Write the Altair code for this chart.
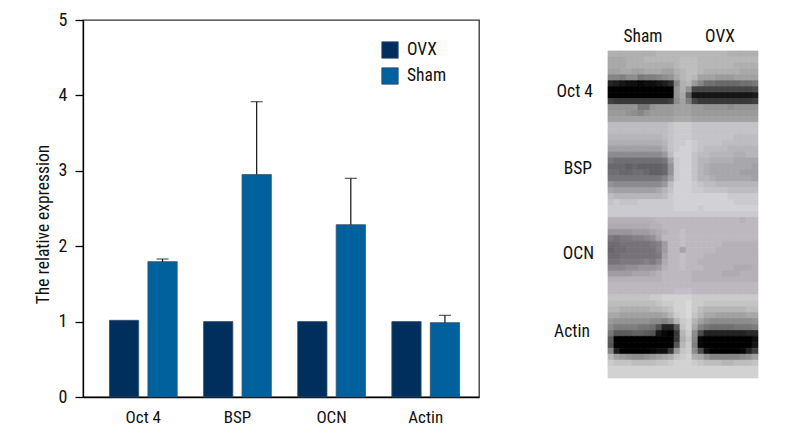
import altair as alt
import pandas as pd

FONT = "Roboto Condensed, Open Sans Condensed, DejaVu Sans Condensed, sans-serif"

categories = ["Oct 4", "BSP", "OCN", "Actin"]
ovx_values = [1.017, 1.0, 1.0, 1.0]
sham_values = [1.795, 2.95, 2.285, 0.986]
sham_error_top = [1.83, 3.917, 2.90, 1.083]
groups = ["OVX", "Sham"]
group_colors = ["#002e5d", "#00619c"]
y_ticks = [0, 1, 2, 3, 4, 5]

# Blot densities: one base-36 digit per cell (0 black, z light)
blot_oct4 = [
    "ppppppppqqq" "qqq" "qqqqqqppppp",
    "ooopppqqqqq" "qrr" "rqqqqqqqqqq",
    "oooppppppppq" "rr" "rqqqqqqpppp",
    "nnoonnooonn" "pqr" "rqppppppooo",
    "jjikkhiijkl" "oqr" "qnnnmmmnnnn",
    "54322122346" "jpq" "mjggffffggh",
    "00000000000" "lpl" "aaaaaaaaaab",
    "00000000000" "loe" "33333333334",
    "98888888889" "kni" "a8888888889",
    "lllllhhlmmm" "nnn" "mmllllkllll",
    "mmmlkjlmmmm" "nnn" "mmmmmmmmmmm",
    "nnnnnnnnnnn" "ooo" "nnnnnnnnnnn",
]
blot_bsp = [
    "rrrrrrrrrrs" "ttt" "sssssssssss",
    "rrrrrrrrrrs" "ttt" "sssssssssss",
    "qqqqqqqqqrs" "ttt" "sssssssrrrr",
    "pppppppppqs" "ttu" "tssssrrrrrr",
    "nnnnnnnnnps" "tuu" "tsrrrrqqqqq",
    "kkkkkkkkkmr" "uuu" "srrqqqqppqq",
    "hgggggggghn" "tuu" "sqqppppoooo",
    "fffefeeeefl" "tuu" "sqpooooooon",
    "ggffggfeefl" "tuu" "sqpooooonnn",
    "hhhhhhhhhjn" "tuu" "sqqpoooooon",
    "lkkkkkkkkmr" "uuu" "tsrrqqqqqqq",
    "onnnnnnnoqs" "uuu" "ttssssrrrrr",
    "rqqqqqqqqrt" "uuu" "uuuuuuttttt",
    "stssstttttt" "uuu" "uuuuuuutttt",
    "ttttttttttt" "uuu" "utuuuuuuuuu",
    "ttttttttttt" "ttt" "ttttttttttt",
]
blot_ocn = [
    "qqqqqqqqrrr" "rrr" "rrrrrrrrqrr",
    "pppppppqqrr" "rrr" "rrrrrrrrrrr",
    "mmmmnnnopqr" "rsr" "rrrrrrrrrrr",
    "ihiijjklorr" "rsr" "rrrrrrrrrrr",
    "gghhhhhijnr" "rsr" "rrrrrqqqqqq",
    "fgghhhhhjnr" "ror" "rrrrqqqqqqq",
    "gghhhhhhior" "rsr" "rrqqqqqqqqq",
    "hhiiiijikpr" "rsr" "rqqqqqqqqqq",
    "kkkllmmmnqr" "rsr" "rrqqqqqpppq",
    "nnnnooopqrr" "rrr" "qqqqqpppqqq",
    "qqqqqqqqqrr" "rrr" "qqqqqqqqqqq",
    "rrrrrrrrrrr" "rrr" "rrrrrrrrrrr",
    "rrrrrrrrrrr" "sss" "rrrrrrrrrrr",
]
blot_actin = [
    "sssssssttuu" "uuu" "ttttttttttt",
    "rrrrrrrrstt" "uuv" "ttsssssssss",
    "qqpppppqqrs" "uuv" "trqqqqqqqrr",
    "oonnnnnnnoq" "tuv" "sqoonnnnnoo",
    "mllllllkkjl" "qtu" "qnlkkkkkkkl",
    "kiiiihhgc55" "dsu" "ojhgggghhhi",
    "hdddeedc310" "8qt" "kb555555566",
    "d0000000000" "8ps" "j1000000002",
    "c0000000000" "cqt" "i1000000003",
    "j4000001228" "mst" "kb200000159",
    "qnmlkklmnop" "stu" "poljjjjjkln",
    "tsssrrrrsst" "uuu" "tsrrrqqrrrs",
    "uuuuuuuuuuu" "uuu" "uuuuuuuuuuu",
    "uuuuuuuuuuu" "uuu" "uuuuuuuuuuu",
]
blot_panels = [(blot_oct4, (0, 1, 0)), (blot_bsp, (0, 0, 4)), (blot_ocn, (0, -5, 2)), (blot_actin, (0, 0, 0))]

lane_labels = ["Sham", "OVX"]
lane_cols = [5.83, 18.67]
lane_rows = [-2.35, -2.35]
row_labels = ["Oct 4", "BSP", "OCN", "Actin"]
row_label_cols = [-2.5, -2.67, -2.33, -3.0]
row_label_rows = [6.9, 19.85, 34.1, 47.3]

# ---- bar chart ----
bars = pd.DataFrame(
    {"cat": categories * 2,
     "group": ["OVX"] * 4 + ["Sham"] * 4,
     "value": ovx_values + sham_values}
)
errs = pd.DataFrame(
    {"cat": categories, "group": ["Sham"] * 4, "low": sham_values, "high": sham_error_top}
)

x_enc = alt.X(
    "cat:N",
    sort=categories,
    scale=alt.Scale(paddingInner=0, paddingOuter=0.1035, align=0.68),
    axis=alt.Axis(title=None, labelAngle=0, ticks=False, labelPadding=12, labelFontSize=17,
                  labelColor="#111", domainColor="#000", domainWidth=1.3, grid=False,
                  labelFont=FONT),
)
x_off = alt.XOffset("group:N", sort=groups, scale=alt.Scale(paddingInner=0.239, paddingOuter=0.343))
y_scale = alt.Scale(domain=[0, 5], nice=False)

bar_layer = alt.Chart(bars).mark_bar(stroke="#33506e", strokeWidth=0.8).encode(
    x=x_enc,
    xOffset=x_off,
    y=alt.Y("value:Q", scale=y_scale,
            axis=alt.Axis(values=y_ticks, format="d", title="The relative expression",
                          titleFont=FONT, titleFontSize=17.5, titleFontWeight="normal", titleColor="#111",
                          titlePadding=6, titleY=204, labelFont=FONT, labelFontSize=18, labelColor="#111",
                          labelPadding=8, tickSize=8, tickColor="#000", tickWidth=1.3,
                          domainColor="#000", domainWidth=1.3, grid=False)),
    color=alt.Color("group:N", sort=groups,
                    scale=alt.Scale(domain=groups, range=group_colors),
                    legend=alt.Legend(title=None, orient="none", legendX=298, legendY=21,
                                      symbolType="square", symbolSize=270, symbolStrokeColor="#33506e",
                                      symbolStrokeWidth=0.8, labelFont=FONT, labelFontSize=17.5,
                                      labelColor="#111", rowPadding=6, labelOffset=8)),
)
rule_layer = alt.Chart(errs).mark_rule(color="#111", strokeWidth=1.2).encode(
    x=x_enc, xOffset=x_off, y=alt.Y("low:Q", scale=y_scale), y2="high:Q"
)
cap_layer = alt.Chart(errs).mark_tick(color="#111", thickness=1.2, size=12, orient="horizontal").encode(
    x=x_enc, xOffset=x_off, y=alt.Y("high:Q", scale=y_scale)
)
left = alt.layer(bar_layer, rule_layer, cap_layer).properties(
    width=396, height=377, view=alt.ViewConfig(stroke="#333333", strokeWidth=1.3)
)

# ---- blot panel ----
rows = []
r = 0
for grid, tint in blot_panels:
    for line in grid:
        for c, ch in enumerate(line):
            g = int(ch, 36) * 7
            rgb = [min(255, max(0, g + t)) for t in tint]
            col = "#%02x%02x%02x" % tuple(rgb)
            rows.append({"c0": c, "c1": c + 1, "r0": r, "r1": r + 1, "col": col})
        r += 1
cells = pd.DataFrame(rows)

x_blot = alt.Scale(domain=[-11.33, 28.67], nice=False, zero=False)
y_blot = alt.Scale(domain=[-5.21, 58.2], nice=False, zero=False, reverse=True)

blot = alt.Chart(cells).mark_rect(strokeWidth=0.7).encode(
    x=alt.X("c0:Q", scale=x_blot, axis=None),
    x2="c1:Q",
    y=alt.Y("r0:Q", scale=y_blot, axis=None),
    y2="r1:Q",
    color=alt.Color("col:N", scale=None),
    stroke=alt.Stroke("col:N", scale=None),
)
lane_df = pd.DataFrame({"t": lane_labels, "c": lane_cols, "r": lane_rows})
lane_text = alt.Chart(lane_df).mark_text(font=FONT, fontSize=17.5, color="#111", align="center", baseline="middle").encode(
    x=alt.X("c:Q", scale=x_blot, axis=None), y=alt.Y("r:Q", scale=y_blot, axis=None), text="t:N"
)
row_df = pd.DataFrame({"t": row_labels, "c": row_label_cols, "r": row_label_rows})
row_text = alt.Chart(row_df).mark_text(font=FONT, fontSize=17.5, color="#111", align="right", baseline="middle").encode(
    x=alt.X("c:Q", scale=x_blot, axis=None), y=alt.Y("r:Q", scale=y_blot, axis=None), text="t:N"
)
right = alt.layer(blot, lane_text, row_text).properties(
    width=240, height=377, view=alt.ViewConfig(stroke=None)
)

chart = alt.hconcat(left, right, spacing=61, bounds="flush").properties(
    padding={"left": 25, "top": 2, "right": 0, "bottom": 0},
    background="#ffffff",
).resolve_scale(color="independent", x="independent", y="independent")

chart.save("out.html", embed_options={"renderer": "svg", "actions": False})
